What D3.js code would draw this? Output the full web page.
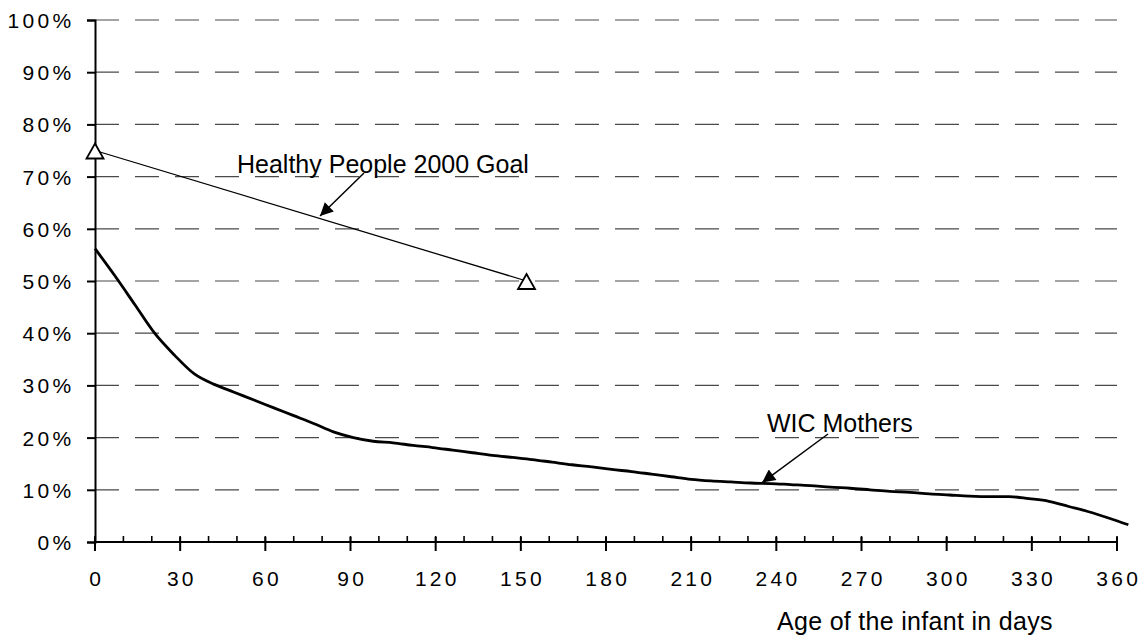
<!DOCTYPE html>
<html>
<head>
<meta charset="utf-8">
<script src="https://cdn.jsdelivr.net/npm/d3@7"></script>
<style>
  html, body { margin: 0; padding: 0; background: #fff; }
  svg { display: block; }
  text { font-family: "Liberation Sans", Arial, sans-serif; fill: #000; }
</style>
</head>
<body>
<svg id="chart" width="1147" height="635"></svg>
<script>
// ---- data ----
const wicDays = [0, 7, 14, 21, 28, 35, 42, 49, 56, 63, 70, 77, 84, 91, 98, 105, 112, 119, 126, 133, 140, 147, 154, 161, 168, 175, 182, 189, 196, 203, 210, 217, 224, 231, 238, 245, 252, 259, 266, 273, 280, 287, 294, 301, 308, 315, 322, 329, 336, 343, 350, 357, 364];
const wicValues = [56.2, 51.0, 45.5, 40.0, 35.8, 32.2, 30.2, 28.7, 27.2, 25.7, 24.2, 22.7, 21.1, 20.0, 19.3, 19.0, 18.5, 18.1, 17.6, 17.1, 16.6, 16.2, 15.8, 15.3, 14.8, 14.4, 13.9, 13.5, 13.0, 12.5, 12.0, 11.7, 11.5, 11.3, 11.2, 11.0, 10.8, 10.5, 10.3, 10.0, 9.7, 9.5, 9.2, 9.0, 8.8, 8.7, 8.7, 8.3, 7.8, 6.8, 5.8, 4.6, 3.3];
const goalDays = [0, 152];
const goalValues = [75, 50];
const xTicks = [0, 30, 60, 90, 120, 150, 180, 210, 240, 270, 300, 330, 360];
const xMinorTicks = d3.range(0, 361, 10);
const yTicks = [0, 10, 20, 30, 40, 50, 60, 70, 80, 90, 100];
const xTitle = "Age of the infant in days";
const goalLabel = "Healthy People 2000 Goal";
const wicLabel = "WIC Mothers";

// ---- scales ----
const svg = d3.select("#chart");
const x = d3.scaleLinear().domain([0, 360]).range([95, 1117]);
const y = d3.scaleLinear().domain([0, 100]).range([542, 20]);

// arrow marker
svg.append("defs").append("marker")
  .attr("id", "arrow")
  .attr("viewBox", "0 0 10 10")
  .attr("refX", 10).attr("refY", 5)
  .attr("markerWidth", 17).attr("markerHeight", 13)
  .attr("markerUnits", "userSpaceOnUse")
  .attr("orient", "auto")
  .append("path").attr("d", "M0,0 L10,5 L0,10 Z").attr("fill", "#000");

// gridlines
svg.append("g").selectAll("line").data(yTicks.filter(d => d > 0)).join("line")
  .attr("x1", x(0)).attr("x2", x(360))
  .attr("y1", d => y(d)).attr("y2", d => y(d))
  .attr("stroke", "#4a4a4a").attr("stroke-width", 1.2)
  .attr("stroke-dasharray", "24,16");

// y axis
const yAxis = svg.append("g").attr("transform", `translate(${x(0)},0)`)
  .call(d3.axisLeft(y).tickValues(yTicks).tickSize(8).tickFormat(d => d + "%").tickPadding(0));
yAxis.select(".domain").attr("stroke", "#000").attr("stroke-width", 2);
yAxis.selectAll(".tick line").attr("stroke", "#000").attr("stroke-width", 2);
yAxis.selectAll(".tick text")
  .attr("x", -20.5).attr("dy", "0.36em")
  .style("font-size", "21px").style("letter-spacing", "3.3px")
  .attr("font-family", null);

// x axis
const xg = svg.append("g").attr("transform", `translate(0,${y(0)})`);
xg.append("line").attr("x1", x(0)).attr("x2", x(360)).attr("y1", 0).attr("y2", 0)
  .attr("stroke", "#000").attr("stroke-width", 2);
xg.selectAll("line.minor").data(xMinorTicks).join("line").attr("class", "minor")
  .attr("x1", d => x(d)).attr("x2", d => x(d))
  .attr("y1", -6).attr("y2", 0)
  .attr("stroke", "#000").attr("stroke-width", 1.6);
xg.selectAll("line.major").data(xTicks).join("line").attr("class", "major")
  .attr("x1", d => x(d)).attr("x2", d => x(d))
  .attr("y1", -5).attr("y2", 9)
  .attr("stroke", "#000").attr("stroke-width", 2);
xg.selectAll("text").data(xTicks).join("text")
  .attr("x", d => x(d) + 1.7).attr("y", 44)
  .attr("text-anchor", "middle")
  .style("font-size", "21px").style("letter-spacing", "3.3px")
  .text(d => d);

// x title
svg.append("text").attr("x", 777).attr("y", 630)
  .style("font-size", "25px").style("letter-spacing", "0.3px")
  .text(xTitle);

// WIC line
const line = d3.line().x(d => x(d[0])).y(d => y(d[1])).curve(d3.curveMonotoneX);
svg.append("path")
  .datum(wicDays.map((d, i) => [d, wicValues[i]]))
  .attr("d", line).attr("fill", "none")
  .attr("stroke", "#000").attr("stroke-width", 2.8).attr("stroke-linejoin", "round");

// goal line
const goalPts = goalDays.map((d, i) => [d, goalValues[i]]);
svg.append("path").datum(goalPts)
  .attr("d", d3.line().x(d => x(d[0])).y(d => y(d[1])))
  .attr("fill", "none").attr("stroke", "#000").attr("stroke-width", 1.3);
svg.append("g").selectAll("path").data(goalPts).join("path")
  .attr("transform", d => `translate(${x(d[0])},${y(d[1])})`)
  .attr("d", "M0,-7 L8.5,8 L-8.5,8 Z")
  .attr("fill", "#fff").attr("stroke", "#000").attr("stroke-width", 1.8);

// annotations
svg.append("text").attr("x", 237).attr("y", 173)
  .style("font-size", "25px").text(goalLabel);
svg.append("line")
  .attr("x1", 364).attr("y1", 173)
  .attr("x2", 320).attr("y2", 216)
  .attr("stroke", "#000").attr("stroke-width", 1.5)
  .attr("marker-end", "url(#arrow)");

svg.append("text").attr("x", 767).attr("y", 432)
  .style("font-size", "25px").text(wicLabel);
svg.append("line")
  .attr("x1", 828).attr("y1", 434)
  .attr("x2", x(235)).attr("y2", y(11.2) - 1)
  .attr("stroke", "#000").attr("stroke-width", 1.5)
  .attr("marker-end", "url(#arrow)");
</script>
</body>
</html>
